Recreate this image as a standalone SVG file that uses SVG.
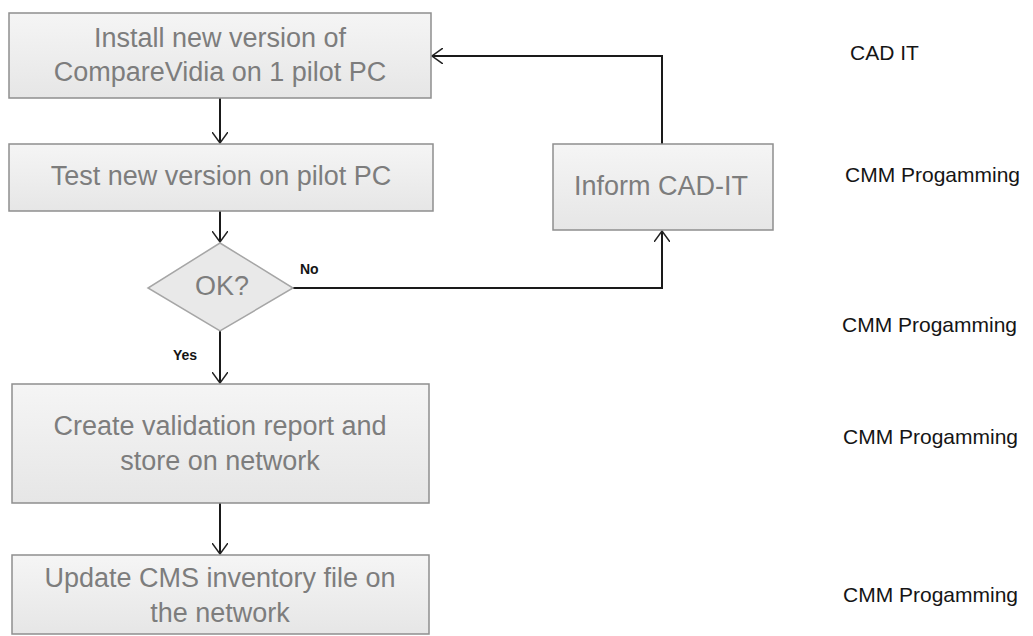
<svg xmlns="http://www.w3.org/2000/svg" width="1033" height="636" viewBox="0 0 1033 636">
<defs>
<linearGradient id="g" x1="0" y1="0" x2="0" y2="1">
<stop offset="0" stop-color="#f5f5f5"/>
<stop offset="1" stop-color="#e6e6e6"/>
</linearGradient>
<marker id="ah" viewBox="0 0 12 16" refX="11" refY="8" markerWidth="12" markerHeight="16" markerUnits="userSpaceOnUse" orient="auto">
<path d="M0,0 L11,8 L0,16" fill="none" stroke="#222" stroke-width="1.5"/>
</marker>
<style>
.box{fill:url(#g);stroke:#8e8e8e;stroke-width:1.5}
.dia{fill:#e9e9e9;stroke:#a6a6a6;stroke-width:1.5}
.t{font-family:"Liberation Sans",Arial,sans-serif;font-size:27px;fill:#7d7d7d;text-anchor:middle}
.lbl{font-family:"Liberation Sans",Arial,sans-serif;font-size:21px;fill:#151515}
.sm{font-family:"Liberation Sans",Arial,sans-serif;font-size:14px;font-weight:bold;fill:#151515}
.c{fill:none;stroke:#1a1a1a;stroke-width:2}
</style>
</defs>
<rect width="1033" height="636" fill="#ffffff"/>
<g id="connectors">
<line class="c" x1="220" y1="98" x2="220" y2="143" marker-end="url(#ah)"/>
<line class="c" x1="220" y1="211" x2="220" y2="242" marker-end="url(#ah)"/>
<line class="c" x1="220" y1="331" x2="220" y2="383" marker-end="url(#ah)"/>
<line class="c" x1="220" y1="503" x2="220" y2="554" marker-end="url(#ah)"/>
<polyline class="c" points="293,288 662,288 662,231" marker-end="url(#ah)"/>
<polyline class="c" points="662,144 662,56 432,56" marker-end="url(#ah)"/>
<text class="sm" x="300" y="274">No</text>
<text class="sm" x="173" y="360">Yes</text>
</g>
<g id="install">
<rect class="box" x="9" y="13" width="422" height="85"/>
<text class="t" x="220" y="47">Install new version of</text>
<text class="t" x="220" y="81">CompareVidia on 1 pilot PC</text>
</g>
<g id="test">
<rect class="box" x="9" y="144" width="424" height="67"/>
<text class="t" x="221" y="185">Test new version on pilot PC</text>
</g>
<g id="ok">
<polygon class="dia" points="220,243 293,288 220,331 148,288"/>
<text class="t" x="222" y="295">OK?</text>
</g>
<g id="inform">
<rect class="box" x="553" y="144" width="220" height="86"/>
<text class="t" x="661" y="195">Inform CAD-IT</text>
</g>
<g id="report">
<rect class="box" x="12" y="384" width="417" height="119"/>
<text class="t" x="220" y="435">Create validation report and</text>
<text class="t" x="220" y="470">store on network</text>
</g>
<g id="update">
<rect class="box" x="12" y="555" width="417" height="79"/>
<text class="t" x="220" y="587">Update CMS inventory file on</text>
<text class="t" x="220" y="622">the network</text>
</g>
<g id="roles">
<text class="lbl" x="850" y="60">CAD IT</text>
<text class="lbl" x="845" y="182">CMM Progamming</text>
<text class="lbl" x="842" y="332">CMM Progamming</text>
<text class="lbl" x="843" y="444">CMM Progamming</text>
<text class="lbl" x="843" y="602">CMM Progamming</text>
</g>
</svg>
